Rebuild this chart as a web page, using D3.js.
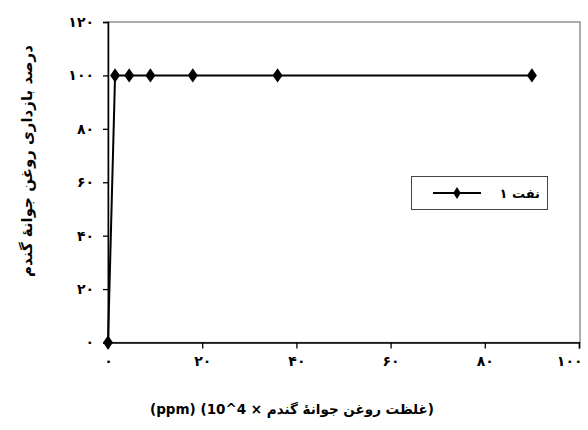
<!DOCTYPE html>
<html><head><meta charset="utf-8">
<script src="https://cdn.jsdelivr.net/npm/d3@7"></script>
<style>body{margin:0;background:#fff}svg{display:block}text{font-family:"DejaVu Sans","Noto Sans",sans-serif;font-weight:bold;fill:#000}</style>
</head><body><div id="chart"></div>
<script>
const xValues = [0, 1.5, 4.5, 9, 18, 36, 90];
const yValues = [0, 100, 100, 100, 100, 100, 100];
const xTicks = [0, 20, 40, 60, 80, 100];
const yTicks = [0, 20, 40, 60, 80, 100, 120];
const seriesName = "نفت ۱";
const xTitle = "(ppm) (10^4 × غلظت روغن جوانهٔ گندم)";
const yTitle = "درصد بازداری روغن جوانهٔ گندم";

const W = 588, H = 430;
const m = {l:108, r:8, t:22, b:87.5};
const svg = d3.select("#chart").append("svg").attr("width", W).attr("height", H);
const x = d3.scaleLinear().domain([0,100]).range([m.l, W - m.r - 1]);
const y = d3.scaleLinear().domain([0,120]).range([H - m.b, m.t]);
const fa = d => d.toString().replace(/\d/g, c => "۰۱۲۳۴۵۶۷۸۹"[+c]);

// frame
svg.append("rect").attr("x", m.l).attr("y", m.t).attr("width", W - m.r - m.l).attr("height", H - m.b - m.t)
  .attr("fill","none").attr("stroke","#808080").attr("stroke-width",1.3);

const xa = svg.append("g").attr("transform",`translate(0,${H - m.b})`)
  .call(d3.axisBottom(x).tickValues(xTicks).tickSize(6).tickPadding(8).tickFormat(fa));
const ya = svg.append("g").attr("transform",`translate(${m.l},0)`)
  .call(d3.axisLeft(y).tickValues(yTicks).tickSize(5).tickPadding(9).tickFormat(fa));
[xa, ya].forEach(a => {
  a.select(".domain").attr("stroke","#000").attr("stroke-width",1.5);
  a.selectAll(".tick line").attr("stroke","#000").attr("stroke-width",1.3);
  a.selectAll("text").attr("font-size",14).attr("font-weight","bold").attr("fill","#000")
   .attr("font-family",'"DejaVu Sans",sans-serif');
});
xa.selectAll(".tick").filter(d => d === 100).select("text").attr("text-anchor","end").attr("dx", 3);

const data = xValues.map((v,i)=>({x:v, y:yValues[i]}));
svg.append("path").datum(data).attr("fill","none").attr("stroke","#000").attr("stroke-width",2)
  .attr("d", d3.line().x(d=>x(d.x)).y(d=>y(d.y)));
const diamond = d3.symbol().type(d3.symbolDiamond).size(60);
svg.selectAll(".pt").data(data).enter().append("path")
  .attr("transform", d=>`translate(${x(d.x)},${y(d.y)}) scale(1.2,1)`)
  .attr("d", diamond).attr("fill","#000");

// legend
const lg = svg.append("g");
lg.append("rect").attr("x",411.5).attr("y",176.5).attr("width",136).attr("height",33)
  .attr("fill","#fff").attr("stroke","#444").attr("stroke-width",1);
lg.append("line").attr("x1",433).attr("x2",481).attr("y1",193).attr("y2",193).attr("stroke","#000").attr("stroke-width",2);
lg.append("path").attr("transform","translate(457,193) scale(1.1,1)").attr("d",d3.symbol().type(d3.symbolDiamond).size(40)).attr("fill","#000");
lg.append("text").attr("x",540).attr("y",198).attr("text-anchor","end").attr("font-size",13).text(seriesName);

// titles
svg.append("text").attr("x",292).attr("y",414).attr("text-anchor","middle").attr("font-size",13.5)
  .attr("direction","ltr").text(xTitle);
svg.append("text").attr("transform","translate(32,161) rotate(-90)").attr("text-anchor","middle")
  .attr("font-size",15).text(yTitle);
</script></body></html>
